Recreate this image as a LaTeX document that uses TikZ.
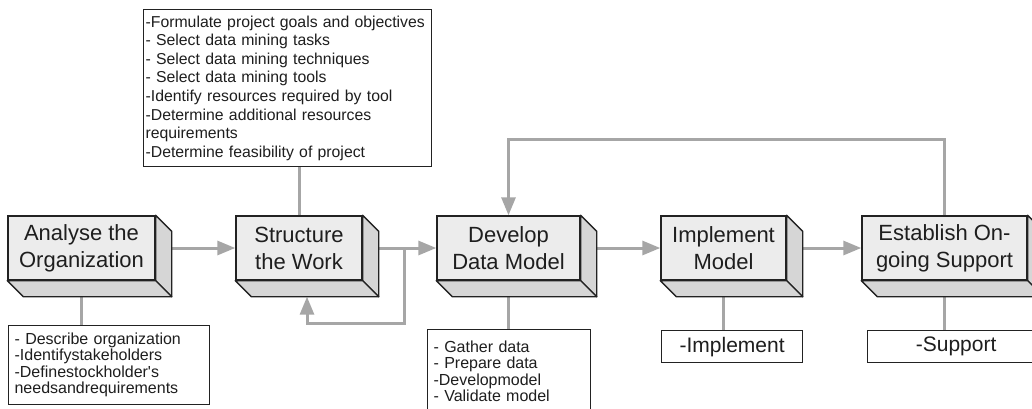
\documentclass[tikz,border=0pt]{standalone}
\usepackage{fontspec}
\setmainfont{Liberation Sans}[Ligatures=TeXOff]
\usetikzlibrary{arrows.meta,calc}

% list lines are broken by hand only
\hyphenpenalty=10000
\exhyphenpenalty=10000

\definecolor{facefront}{HTML}{ECECEC}
\definecolor{faceside}{HTML}{D6D6D6}
\definecolor{edge}{HTML}{222222}
\definecolor{linkgray}{HTML}{A6A6A6}
\definecolor{ink}{HTML}{1E1E1E}

\pgfdeclarelayer{bg}
\pgfsetlayers{bg,main}

% depth of the extruded faces of a stage box
\def\dep{16}

% right and bottom faces of a stage box
\newcommand{\extrudebox}[1]{%
  \filldraw[sideface] (#1.north east) -- ++(\dep,\dep)
    -- ($(#1.south east)+(\dep,\dep)$) -- (#1.south east) -- cycle;
  \filldraw[sideface] (#1.south west) -- ($(#1.south west)+(\dep,\dep)$)
    -- ($(#1.south east)+(\dep,\dep)$) -- (#1.south east) -- cycle;}

\begin{document}
\begin{tikzpicture}[x=1pt,y=-1pt,
  stage/.style={draw=edge, fill=facefront, line width=1.4pt, inner sep=0pt,
    align=center, text=ink, minimum height=64pt,
    font=\fontsize{22}{27}\selectfont},
  sideface/.style={draw=edge, fill=faceside, line width=1.4pt, line join=round},
  note/.style={draw=edge, fill=white, line width=1.2pt, inner xsep=6pt,
    inner ysep=3pt, align=left, text=ink, anchor=north west,
    font=\fontsize{16}{16.5}\selectfont},
  shortnote/.style={draw=edge, fill=white, line width=1.2pt, inner sep=0pt,
    align=center, text=ink, anchor=north west, minimum height=32pt,
    font=\fontsize{21}{24}\selectfont},
  link/.style={draw=linkgray, line width=3pt},
  flow/.style={link, -{Triangle[length=18pt,width=14pt]}}]

\useasboundingbox (0,0) rectangle (1032,408);

% stages
\node[stage, minimum width=147pt] (b1) at (81.5,248) {Analyse the\\Organization};
\node[stage, minimum width=126pt] (b2) at (299,248) {Structure\\the Work};
\node[stage, minimum width=143pt] (b3) at (508.5,248) {Develop\\Data Model};
\node[stage, minimum width=125pt] (b4) at (723.5,248) {Implement\\Model};
\node[stage, minimum width=165pt] (b5) at (944.5,248) {Establish On-\\going Support};
\foreach \b in {b1,b2,b3,b4,b5} {\extrudebox{\b}}

% task lists
\node[note, inner xsep=2pt, text width=284pt, minimum height=157pt,
  font=\fontsize{15.8}{18.6}\selectfont] (n2) at (143,9)
  {-Formulate project goals and objectives\\
   - Select data mining tasks\\
   - Select data mining techniques\\
   - Select data mining tools\\
   -Identify resources required by tool\\
   -Determine additional resources\\
   requirements\\
   -Determine feasibility of project};
\node[note, text width=189pt, minimum height=79pt] (n1) at (8,325)
  {- Describe organization\\
   -Identifystakeholders\\
   -Definestockholder's\\
   needsandrequirements};
\node[note, text width=151pt, minimum height=83pt] (n3) at (427,329)
  {- Gather data\\
   - Prepare data\\
   -Developmodel\\
   - Validate model};
\node[shortnote, minimum width=141pt] (n4) at (661,330) {-Implement};
\node[shortnote, minimum width=177pt] (n5) at (867,330) {-Support};

\begin{pgfonlayer}{bg}
  % main flow
  \draw[flow] ($(b1.east)+(\dep,0)$) -- (b2.west);
  \draw[flow] ($(b2.east)+(\dep,0)$) -- (b3.west);
  \draw[flow] ($(b3.east)+(\dep,0)$) -- (b4.west);
  \draw[flow] ($(b4.east)+(\dep,0)$) -- (b5.west);

  % loop back into structuring the work
  \coordinate (split) at (404,248);
  \coordinate (loopcorner) at (404,323);
  \draw[flow] (split) -- (loopcorner) -| ($(b2.south)+(8,\dep)$);

  % feedback from on-going support to the data model
  \coordinate (feedback) at (508.5,139);
  \draw[flow] (b5.north) |- (feedback) -- (b3.north);

  % stages to their task lists
  \draw[link] (n2.south -| b2.north) -- (b2.north);
  \draw[link] ($(b1.south)+(0,\dep)$) -- (n1.north -| b1.south);
  \draw[link] ($(b3.south)+(0,\dep)$) -- (n3.north -| b3.south);
  \draw[link] ($(b4.south)+(0,\dep)$) -- (n4.north -| b4.south);
  \draw[link] ($(b5.south)+(0,\dep)$) -- (n5.north -| b5.south);
\end{pgfonlayer}
\end{tikzpicture}
\end{document}
